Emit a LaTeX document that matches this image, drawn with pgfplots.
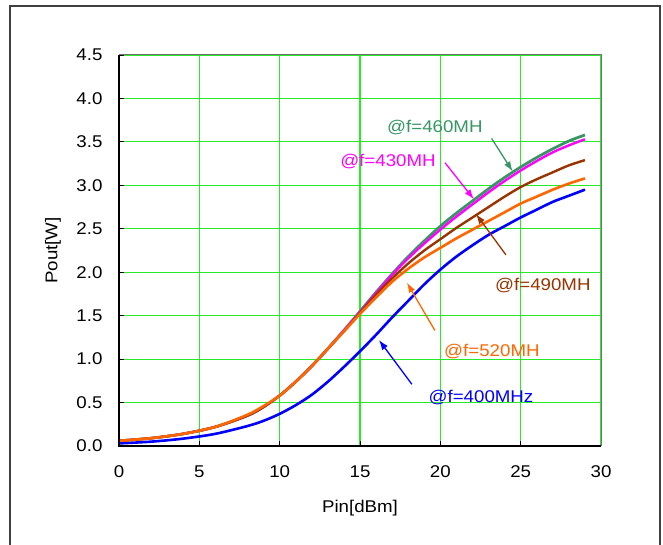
\documentclass[border=0pt]{standalone}
\usepackage{pgfplots}
\pgfplotsset{compat=1.18}
\usepackage{fontspec}
\setmainfont{Liberation Sans}[FakeStretch=1.1]
\usetikzlibrary{arrows.meta}
\definecolor{c460}{RGB}{56,150,100}
\definecolor{c430}{RGB}{255,0,255}
\definecolor{c490}{RGB}{153,51,0}
\definecolor{c520}{RGB}{255,102,0}
\definecolor{c400}{RGB}{0,0,255}
\definecolor{gridg}{RGB}{40,235,40}
\newcommand\fs{\fontsize{17}{20}\selectfont}
\begin{document}
\begin{tikzpicture}
\useasboundingbox (0,0) rectangle (663pt,545pt);
\draw[line width=1.2pt, black!75] (10pt,-20pt) -- (10pt,539pt) -- (660pt,539pt) -- (660pt,-20pt);
\begin{axis}[
  scale only axis, width=482pt, height=391pt,
  at={(119pt,99pt)}, anchor=south west,
  xmin=0, xmax=30, ymin=0, ymax=4.5,
  xtick={0,5,...,30}, ytick={0,0.5,...,4.5},
  xtick pos=left, ytick pos=left, tick align=inside,
  major tick length=5pt,
  tick style={black, line width=0.8pt},
  grid=major, major grid style={gridg, line width=1.2pt},
  axis line style={black!55, line width=1pt},
  /pgf/number format/assume math mode=true,
  ticklabel style={font=\fs},
  yticklabel style={/pgf/number format/fixed, /pgf/number format/fixed zerofill, /pgf/number format/precision=1, xshift=-13pt},
  xticklabel style={yshift=-16pt},
  xlabel={Pin[dBm]}, ylabel={Pout[W]},
  every axis x label/.style={at={(rel axis cs:0.5,0)}, yshift=-62pt, anchor=center, font=\fs},
  every axis y label/.style={at={(rel axis cs:0,0.5)}, xshift=-66pt, rotate=90, anchor=center, font=\fs},
  clip=false,
]
\addplot[c400, line width=2.6pt, smooth] coordinates {
(0,0.03) (2,0.05) (4,0.085) (6,0.14) (8,0.23) (9,0.29) (10,0.37) (11,0.47) (12,0.59) (13,0.74) (14,0.91) (15,1.09) (16,1.28) (17,1.48) (18,1.67) (19,1.86) (20,2.03) (21,2.18) (22,2.31) (23,2.43) (24,2.53) (25,2.63) (26,2.72) (27,2.81) (28,2.88) (29,2.95)};
\addplot[c460, line width=2.8pt, smooth] coordinates {
(0,0.06) (2,0.09) (4,0.14) (6,0.22) (8,0.35) (9,0.45) (10,0.58) (11,0.74) (12,0.92) (13,1.12) (14,1.33) (15,1.55) (16,1.77) (17,1.98) (18,2.18) (19,2.36) (20,2.53) (21,2.68) (22,2.82) (23,2.96) (24,3.09) (25,3.21) (26,3.32) (27,3.42) (28,3.51) (29,3.58)};
\addplot[c430, line width=2.4pt, smooth] coordinates {
(0,0.06) (2,0.09) (4,0.14) (6,0.22) (8,0.35) (9,0.45) (10,0.58) (11,0.74) (12,0.92) (13,1.12) (14,1.33) (15,1.54) (16,1.76) (17,1.97) (18,2.16) (19,2.33) (20,2.49) (21,2.64) (22,2.78) (23,2.92) (24,3.05) (25,3.17) (26,3.28) (27,3.38) (28,3.46) (29,3.53)};
\addplot[c490, line width=2.4pt, smooth] coordinates {
(0,0.06) (2,0.09) (4,0.14) (6,0.22) (8,0.35) (9,0.45) (10,0.58) (11,0.74) (12,0.92) (13,1.12) (14,1.32) (15,1.53) (16,1.74) (17,1.93) (18,2.10) (19,2.25) (20,2.38) (21,2.51) (22,2.63) (23,2.75) (24,2.87) (25,2.98) (26,3.07) (27,3.15) (28,3.23) (29,3.29)};
\addplot[c520, line width=2.6pt, smooth] coordinates {
(0,0.06) (2,0.09) (4,0.14) (6,0.22) (8,0.36) (9,0.46) (10,0.58) (11,0.74) (12,0.92) (13,1.12) (14,1.32) (15,1.52) (16,1.71) (17,1.89) (18,2.04) (19,2.17) (20,2.28) (21,2.39) (22,2.49) (23,2.59) (24,2.69) (25,2.79) (26,2.87) (27,2.95) (28,3.02) (29,3.08)};
\draw[black!55, line width=1pt] (rel axis cs:0,1) -- (rel axis cs:1,1) -- (rel axis cs:1,0);
\draw[black, line width=1.2pt] (rel axis cs:0,1) -- (rel axis cs:0,0) -- (rel axis cs:1,0);
% annotations
\node[c460, font=\fs] at (axis cs:19.66,3.66) {@f=460MH};
\draw[c460, line width=1.3pt, -{Latex[length=10pt,width=7pt]}] (axis cs:23.19,3.54) -- (axis cs:24.50,3.16);
\node[c430, font=\fs] at (axis cs:16.74,3.27) {@f=430MH};
\draw[c430, line width=1.3pt, -{Latex[length=10pt,width=7pt]}] (axis cs:20.29,3.26) -- (axis cs:22.09,2.84);
\node[c490, font=\fs] at (axis cs:26.38,1.85) {@f=490MH};
\draw[c490, line width=1.3pt, -{Latex[length=10pt,width=7pt]}] (axis cs:24.08,2.20) -- (axis cs:22.22,2.67);
\node[c520, font=\fs] at (axis cs:23.21,1.09) {@f=520MH};
\draw[c520, line width=1.3pt, -{Latex[length=10pt,width=7pt]}] (axis cs:19.66,1.33) -- (axis cs:17.92,1.88);
\node[c400, font=\fs] at (axis cs:22.53,0.56) {@f=400MHz};
\draw[c400, line width=1.3pt, -{Latex[length=10pt,width=7pt]}] (axis cs:18.23,0.71) -- (axis cs:16.18,1.22);
\end{axis}
\end{tikzpicture}
\end{document}
